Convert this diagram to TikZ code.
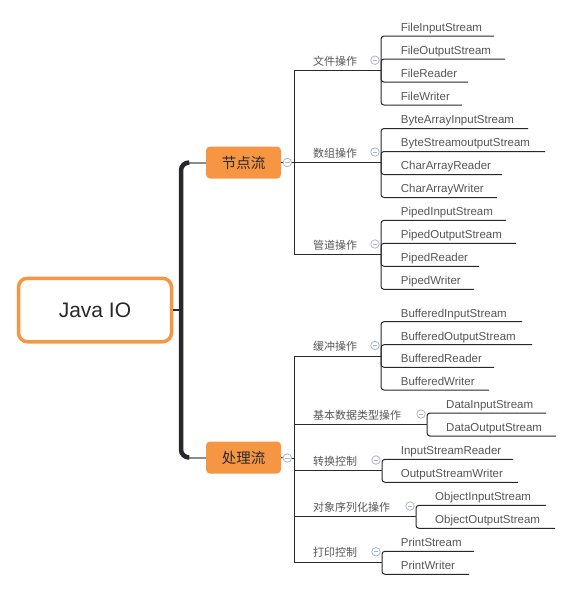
\documentclass[tikz,border=0pt]{standalone}
\usepackage{fontspec}
\setmainfont{Liberation Sans}
\newfontfamily\cjk{Noto Sans CJK SC}
\usetikzlibrary{calc}
\definecolor{orng}{RGB}{247,150,66}
\definecolor{leafgray}{RGB}{85,85,85}
\definecolor{darktxt}{RGB}{40,40,40}
\definecolor{linec}{RGB}{40,40,40}
\definecolor{foldc}{RGB}{170,180,200}
\definecolor{trunkc}{RGB}{40,38,45}
\definecolor{graylink}{RGB}{140,140,140}
\newcommand\leafitem[6]{%
  \coordinate (#1e) at (#5,#4);
  \draw[conn,rounded corners=3] (#2) |- (#1e);
  \node[leaf] (#1) at (#3,#4-4.6) {#6};
}
\newcommand\catitem[5]{%
  \coordinate (#1) at (#4,#3);
  \draw[conn] (#2) |- (#1);
  \node[cat] (#1t) at (313,#3-5.5) {#5};
  \node[fold] (#1f) at (#4-6,#3-10.5) {};
}
\begin{document}
\begin{tikzpicture}[x=1pt,y=-1pt,
  leaf/.style={anchor=base west, inner sep=0, font=\fontsize{11.5}{13}\selectfont, text=leafgray},
  cat/.style={anchor=base west, inner sep=0, font=\cjk\fontsize{11}{13}\selectfont, text=leafgray},
  mainbox/.style={fill=orng, rounded corners=4, minimum width=75, minimum height=32, inner sep=0, font=\cjk\fontsize{14.5}{16}\selectfont, text=darktxt},
  rootbox/.style={draw=orng, fill=white, line width=3.5, rounded corners=9, minimum width=153, minimum height=63.5, inner sep=0, font=\fontsize{21}{24}\selectfont, text=darktxt},
  conn/.style={draw=linec, line width=1},
  fold/.style={circle, draw=foldc, fill=white, line width=0.8, minimum size=8.5, inner sep=0,
    path picture={\draw[foldc,line width=0.8] ($(path picture bounding box.west)+(2,0)$) -- ($(path picture bounding box.east)+(-2,0)$);}},
]
\useasboundingbox (0,0) rectangle (572,590);

% root and main branches
\node[rootbox] (root) at (95,310) {Java IO};
\node[mainbox] (jd) at (243.5,162.5) {节点流};
\node[mainbox] (cl) at (243.5,457.5) {处理流};

\coordinate (tk) at (181,310);
\draw[linec, line width=1.2] (root.east) -- (tk);
\draw[graylink, line width=2] ($(jd.west)+(-19,0)$) -- (jd.west);
\draw[graylink, line width=2] ($(cl.west)+(-19,0)$) -- (cl.west);
\draw[trunkc, line width=4.5, rounded corners=8] ($(jd.west)+(-17,0)$) -| (tk) |- ($(cl.west)+(-17,0)$);

% folds at main boxes
\node[fold] (jdf) at (287.3,162.5) {};
\node[fold] (clf) at (287.3,458) {};
\coordinate (j0) at (294,162.5);
\coordinate (j1) at (294,458);
\draw[conn] (jd.east) -- (jdf.west);
\draw[conn] (jdf.east) -- (j0);
\draw[conn] (cl.east) -- (clf.west);
\draw[conn] (clf.east) -- (j1);

% categories
\catitem{A}{j0}{70.7}{381}{文件操作}
\catitem{B}{j0}{162.5}{381}{数组操作}
\catitem{C}{j0}{254.5}{381}{管道操作}
\catitem{D}{j1}{356}{381}{缓冲操作}
\catitem{E}{j1}{424.5}{427}{基本数据类型操作}
\catitem{F}{j1}{470.5}{382}{转换控制}
\catitem{G}{j1}{516.5}{416}{对象序列化操作}
\catitem{H}{j1}{562.3}{382}{打印控制}

% leaves
\leafitem{A1}{A}{400.7}{36}{494}{FileInputStream}
\leafitem{A2}{A}{400.7}{59}{505}{FileOutputStream}
\leafitem{A3}{A}{400.7}{82}{468}{FileReader}
\leafitem{A4}{A}{400.7}{105}{462}{FileWriter}

\leafitem{B1}{B}{400.7}{128.5}{528}{ByteArrayInputStream}
\leafitem{B2}{B}{400.7}{151.5}{545}{ByteStreamoutputStream}
\leafitem{B3}{B}{400.7}{174.5}{502}{CharArrayReader}
\leafitem{B4}{B}{400.7}{197.5}{497}{CharArrayWriter}

\leafitem{C1}{C}{400.7}{220.3}{506}{PipedInputStream}
\leafitem{C2}{C}{400.7}{243.3}{516}{PipedOutputStream}
\leafitem{C3}{C}{400.7}{266.3}{479}{PipedReader}
\leafitem{C4}{C}{400.7}{289.3}{474}{PipedWriter}

\leafitem{D1}{D}{400.7}{321.7}{522}{BufferedInputStream}
\leafitem{D2}{D}{400.7}{344.7}{532}{BufferedOutputStream}
\leafitem{D3}{D}{400.7}{367.3}{494}{BufferedReader}
\leafitem{D4}{D}{400.7}{390}{489}{BufferedWriter}

\leafitem{E1}{E}{446}{413}{546}{DataInputStream}
\leafitem{E2}{E}{446}{436}{556}{DataOutputStream}

\leafitem{F1}{F}{400.7}{459.3}{513}{InputStreamReader}
\leafitem{F2}{F}{400.7}{482.3}{518}{OutputStreamWriter}

\leafitem{G1}{G}{435}{505.3}{546}{ObjectInputStream}
\leafitem{G2}{G}{435}{528.3}{555}{ObjectOutputStream}

\leafitem{H1}{H}{400.7}{551.3}{474}{PrintStream}
\leafitem{H2}{H}{400.7}{574.3}{469}{PrintWriter}
\end{tikzpicture}
\end{document}
